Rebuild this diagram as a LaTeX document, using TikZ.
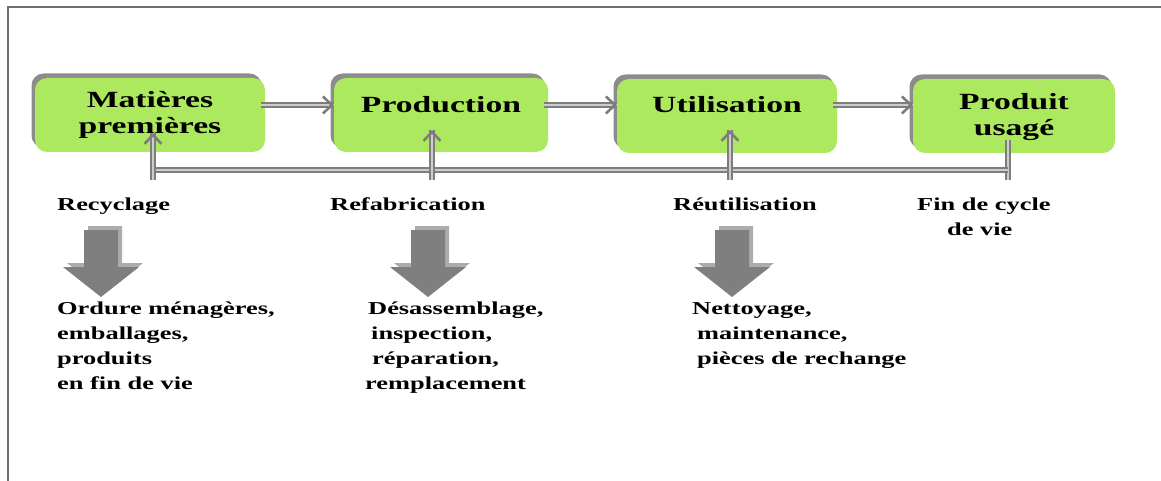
\documentclass[tikz,border=0pt]{standalone}
\usepackage{fontspec}
\newfontfamily\lbl[FakeStretch=1.45]{Liberation Serif}
\usetikzlibrary{arrows.meta,shadows,decorations.markings}
\definecolor{boxgreen}{RGB}{173,233,95}
\definecolor{conngray}{RGB}{125,125,125}
\definecolor{conninner}{RGB}{205,205,205}
\definecolor{shadowgray}{RGB}{140,140,140}
\definecolor{blockgray}{RGB}{127,127,127}
\definecolor{blockshade}{RGB}{172,172,172}
\definecolor{framegray}{RGB}{110,110,110}
\begin{document}
\begin{tikzpicture}[x=1pt,y=-1pt,
  stagebox/.style={rounded corners=12pt, fill=boxgreen, inner sep=0pt, minimum height=74pt,
    font=\lbl\bfseries\fontsize{23.2}{26}\selectfont,
    drop shadow={shadow xshift=-3.5pt, shadow yshift=4.5pt, fill=shadowgray, opacity=1}},
  dblline/.style={draw=conngray, line width=2.2pt, double=conninner, double distance=2.2pt},
  flow/.style={dblline, postaction={decorate, decoration={markings,
     mark=at position 1 with {\arrow[conngray, line width=2.6pt]{Straight Barb[length=9pt,width=17pt]}}}}},
  lbltext/.style={inner sep=0pt, anchor=base west, font=\lbl\bfseries\fontsize{18.2}{25}\selectfont},
  blockarrow/.pic={
    \fill[blockshade] (4,-4) -- (42,-34) -- (21,-34) -- (21,-71) -- (-13,-71) -- (-13,-34) -- (-34,-34) -- cycle;
    \fill[blockgray] (0,0) -- (38,-30) -- (17,-30) -- (17,-67) -- (-17,-67) -- (-17,-30) -- (-38,-30) -- cycle;}]
\useasboundingbox (0,0) rectangle (1161,481);
\draw[framegray, line width=2pt] (8,481) -- (8,7) -- (1161,7);

% stage boxes
\node[stagebox, minimum width=230pt] (m) at (150,115)
  {\raisebox{-19pt}[0pt][0pt]{\begin{tabular}[b]{@{}c@{}}Matières\\premières\end{tabular}}};
\node[stagebox, minimum width=214pt] (p) at (441,115)
  {\raisebox{2pt}[0pt][0pt]{Production}};
\node[stagebox, minimum width=220pt] (u) at (727,116)
  {\raisebox{3pt}[0pt][0pt]{Utilisation}};
\node[stagebox, minimum width=202pt] (f) at (1014,116)
  {\raisebox{-20pt}[0pt][0pt]{\begin{tabular}[b]{@{}c@{}}Produit\\usagé\end{tabular}}};

% forward flow
\draw[flow] ([yshift=10pt,xshift=-4pt]m.east) -- ([yshift=10pt]m.east -| p.west);
\draw[flow] ([yshift=10pt,xshift=-4pt]p.east) -- ([yshift=10pt]p.east -| u.west);
\draw[flow] ([yshift=11pt,xshift=-4pt]u.east) -- ([yshift=11pt]u.east -| f.west);

% feedback loop
\coordinate (ftop) at (1008,140);
\coordinate (fbot) at (1008,180);
\coordinate (hR) at (1008,170);
\coordinate (hL) at (153,170);
\coordinate (r1bot) at (153,180); \coordinate (r1tip) at (153,133);
\coordinate (r2bot) at (432,180); \coordinate (r2tip) at (432,130);
\coordinate (r3bot) at (730,180); \coordinate (r3tip) at (730,130);
\draw[dblline] (ftop) -- (fbot);
\draw[dblline] (hL) -- (hR);
\draw[flow] (r1bot) -- (r1tip);
\draw[flow] (r2bot) -- (r2tip);
\draw[flow] (r3bot) -- (r3tip);

% labels
\node[lbltext] (recy) at (57,211) {Recyclage};
\node[lbltext] (refa) at (330,211) {Refabrication};
\node[lbltext] (reut) at (673,210) {Réutilisation};
\node[lbltext] (fin) at (917,210) {\begin{tabular}[t]{@{}l@{}}Fin de cycle\\\hspace*{30pt}de vie\end{tabular}};

% block arrows
\pic at (101,297) {blockarrow};
\pic at (428,297) {blockarrow};
\pic at (732,297) {blockarrow};

% details
\node[lbltext] (d1) at (57,314) {\begin{tabular}[t]{@{}l@{}}Ordure ménagères,\\emballages,\\produits\\en fin de vie\end{tabular}};
\node[lbltext] (d2) at (365,314) {\begin{tabular}[t]{@{}l@{}}\hspace*{3pt}Désassemblage,\\\hspace*{6pt}inspection,\\\hspace*{7pt}réparation,\\remplacement\end{tabular}};
\node[lbltext] (d3) at (692,314) {\begin{tabular}[t]{@{}l@{}}Nettoyage,\\\hspace*{5pt}maintenance,\\\hspace*{5pt}pièces de rechange\end{tabular}};
\end{tikzpicture}
\end{document}
